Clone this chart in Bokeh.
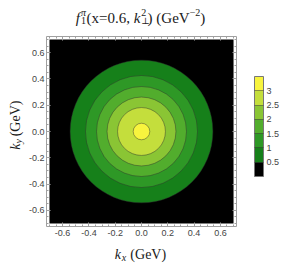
import math
from bokeh.plotting import figure
from bokeh.layouts import column, row
from bokeh.core.properties import value
from bokeh.models import (Range1d, LinearAxis, SingleIntervalTicker, FixedTicker,
                          LinearColorMapper, ColorBar, PrintfTickFormatter, CustomJSTickFormatter)
from bokeh.embed import file_html
from bokeh.resources import INLINE

# ---- data ----
levels = [0.5, 1.0, 1.5, 2.0, 2.5, 3.0]                 # contour levels
radii = [0.543, 0.426, 0.342, 0.262, 0.182, 0.063]      # k_perp radius (GeV) of each contour
band_colors = ["#000000", "#16801a", "#2e9826", "#52ad2d", "#8ac534", "#c4de3c", "#f8f43e"]
k_domain = [-0.7, 0.7]
cb_low, cb_high = 0.0, 3.5

# ---- layout geometry (canvas px) ----
TH = 30            # title strip height
YW = 25            # y-label strip width
MW, MH = 259, 212  # main figure
XH = 24            # x-label strip height
FL, FB = 44, 226   # frame left / bottom on the page

p = figure(width=MW, height=MH, x_range=Range1d(-0.7225, 0.7225), y_range=Range1d(-0.7225, 0.7225),
           output_backend="svg", toolbar_location=None, title=None,
           min_border_left=FL - YW, min_border_right=48, min_border_top=6, min_border_bottom=16)
p.outline_line_color = None
p.grid.visible = False
p.background_fill_color = "white"

FRAME = "#a0a0a0"
def style_axis(ax, labels=True, standoff=2):
    ax.ticker = SingleIntervalTicker(interval=0.2, num_minor_ticks=4)
    ax.axis_line_color = FRAME
    ax.major_tick_line_color = FRAME
    ax.minor_tick_line_color = FRAME
    ax.major_tick_in = 4
    ax.major_tick_out = 0
    ax.minor_tick_in = 2
    ax.minor_tick_out = 0
    ax.major_label_standoff = standoff
    if labels:
        ax.formatter = PrintfTickFormatter(format="%.1f")
        ax.major_label_text_font = "Liberation Sans"
        ax.major_label_text_font_size = "9px"
        ax.major_label_text_color = "#444444"
    else:
        ax.formatter = CustomJSTickFormatter(code="return ''")
        ax.major_label_standoff = 0

style_axis(p.xaxis[0], True, 3)
style_axis(p.yaxis[0], True, 2)
ax_r = LinearAxis(); style_axis(ax_r, False); p.add_layout(ax_r, "right")
ax_t = LinearAxis(); style_axis(ax_t, False); p.add_layout(ax_t, "above")

# lowest band (below 0.5) over the plotted domain
p.quad(left=k_domain[0], right=k_domain[1], bottom=k_domain[0], top=k_domain[1],
       fill_color=band_colors[0], line_color=None)
# contour bands, largest first
n = len(radii)
p.circle(x=[0.0] * n, y=[0.0] * n, radius=radii, fill_color=band_colors[1:],
         line_color="#2b2b2b", line_alpha=0.55, line_width=0.8)

# colour bar
mapper = LinearColorMapper(palette=band_colors, low=cb_low, high=cb_high)
cb = ColorBar(color_mapper=mapper, ticker=FixedTicker(ticks=levels), width=9, height=100,
              location=(252 - FL, FB - 176), padding=0, margin=0, label_standoff=3,
              major_label_text_font="Liberation Sans", major_label_text_font_size="9px",
              major_label_text_color="#444444", major_tick_in=9, major_tick_out=0,
              major_tick_line_color="#333333", major_tick_line_alpha=0.5,
              bar_line_color="#777777", background_fill_alpha=0, border_line_color=None)
p.add_layout(cb)

# ---- text strips (title and axis titles with sub/superscripts) ----
def strip(w, h):
    f = figure(width=w, height=h, x_range=Range1d(0, w), y_range=Range1d(0, h),
               output_backend="svg", toolbar_location=None, title=None, min_border=0,
               x_axis_location=None, y_axis_location=None)
    f.outline_line_color = None
    f.grid.visible = False
    return f

W = {' ': .25, '(': .333, ')': .333, 'x': .5, '=': .564, '0': .5, '.': .25, '6': .5, ',': .25,
     'G': .722, 'e': .444, 'V': .722, '\u2212': .564, '1': .5, '2': .5, '\u03c0': .55, '\u22a5': .7,
     'k': .5, 'f': .36, 'y': .444}
def tw(t, s):
    return sum(W.get(c, .5) for c in t) * s

def place(fig, ox, oy, h, parts, cx, cy, angle=0.0, color="#1a1a1a"):
    # parts: (text, size, italic, raise, font, stack); cx, cy in page px
    total = 0.0; stack_w = 0.0
    for t, s, it, r, f, st in parts:
        w = tw(t, s)
        if st:
            stack_w = max(stack_w, w)
        else:
            total += max(stack_w, w); stack_w = 0.0
    dx, dy = math.cos(angle), -math.sin(angle)
    ux, uy = -math.sin(angle), -math.cos(angle)
    pos = -total / 2; stack_w = 0.0
    for t, s, it, r, f, st in parts:
        lead = len(t) - len(t.lstrip(' '))
        q = pos + lead * W[' '] * s
        px = cx + q * dx + r * ux
        py = cy + q * dy + r * uy
        fig.text(x=[px - ox], y=[h - (py - oy)], text=[t.strip(' ')], angle=angle,
                 text_font=value(f), text_font_size=value(f"{s}px"),
                 text_font_style=value("italic" if it else "normal"),
                 text_baseline="alphabetic", text_align="left", text_color=color)
        w = tw(t, s)
        if st:
            stack_w = max(stack_w, w)
        else:
            pos += max(stack_w, w); stack_w = 0.0

SER = "Liberation Serif"
title_fig = strip(MW + YW, TH)
title_parts = [
    ("f", 15, True, 0, SER, False),
    ("1", 10, False, -3, SER, True),
    ("\u03c0", 10, True, 5, SER, False),
    ("(x=0.6, ", 15, False, 0, SER, False),
    ("k", 15, True, 0, SER, False),
    ("\u22a5", 9, False, -3, "DejaVu Serif", True),
    ("2", 10, False, 5, SER, False),
    (") (GeV", 15, False, 0, SER, False),
    ("\u22122", 10, False, 5, SER, False),
    (")", 15, False, 0, SER, False),
]
place(title_fig, 0, 0, TH, title_parts, 140, 17)

ylab_fig = strip(YW, MH)
ylab = [("k", 14, True, 0, SER, False), ("y", 10, True, -2.5, SER, False),
        (" (GeV)", 14, False, 0, SER, False)]
place(ylab_fig, 0, TH, MH, ylab, 15, 131, angle=math.pi / 2)

xlab_fig = strip(MW + YW, XH)
xlab = [("k", 14, True, 0, SER, False), ("x", 10, True, -3, SER, False),
        (" (GeV)", 14, False, 0, SER, False)]
place(xlab_fig, 0, TH + MH, XH, xlab, 140, 254)

layout = column(title_fig, row(ylab_fig, p), xlab_fig)
open("out.html", "w").write(file_html(layout, INLINE))
